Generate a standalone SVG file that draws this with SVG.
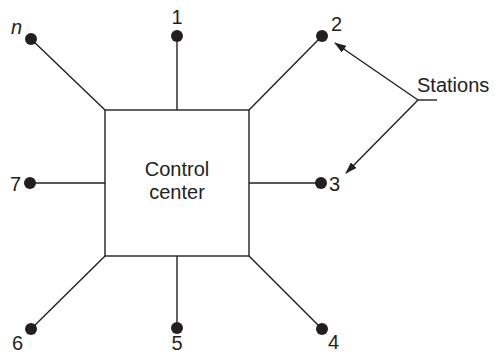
<svg xmlns="http://www.w3.org/2000/svg" width="495" height="352" viewBox="0 0 495 352">
<style>
.ln{stroke:#231f20;stroke-width:1.4;fill:none}
.dot{fill:#231f20}
.t{font-family:"Liberation Sans",Arial,sans-serif;font-size:20px;fill:#231f20}
</style>
<defs>
<marker id="ah" markerWidth="12" markerHeight="8" refX="11" refY="4" orient="auto" markerUnits="userSpaceOnUse">
<path d="M0,0 L12,4 L0,8 Z" fill="#231f20"/>
</marker>
</defs>
<rect width="495" height="352" fill="#fff"/>
<g id="connectors">
<line class="ln" x1="105" y1="110" x2="31" y2="39"/>
<line class="ln" x1="177" y1="110" x2="177" y2="36"/>
<line class="ln" x1="249" y1="110" x2="322" y2="36"/>
<line class="ln" x1="249" y1="183" x2="321" y2="183"/>
<line class="ln" x1="249" y1="256" x2="322" y2="329"/>
<line class="ln" x1="177" y1="256" x2="177" y2="328"/>
<line class="ln" x1="105" y1="256" x2="31" y2="329"/>
<line class="ln" x1="105" y1="183" x2="30" y2="183"/>
<line class="ln" x1="418" y1="100" x2="437" y2="100"/>
<line class="ln" x1="418" y1="100" x2="335" y2="43" marker-end="url(#ah)"/>
<line class="ln" x1="418" y1="100" x2="346" y2="173" marker-end="url(#ah)"/>
</g>
<g id="control">
<rect class="ln" x="105" y="110" width="144" height="146"/>
<text class="t" x="177" y="176" text-anchor="middle">Control</text>
<text class="t" x="177" y="199" text-anchor="middle">center</text>
</g>
<g id="node-n"><circle class="dot" cx="31" cy="39" r="6"/><text class="t" x="11" y="34" font-style="italic">n</text></g>
<g id="node-1"><circle class="dot" cx="177" cy="36" r="6"/><text class="t" x="177" y="24" text-anchor="middle">1</text></g>
<g id="node-2"><circle class="dot" cx="322" cy="36" r="6"/><text class="t" x="331" y="31">2</text></g>
<g id="node-3"><circle class="dot" cx="321" cy="183" r="6"/><text class="t" x="329" y="191">3</text></g>
<g id="node-4"><circle class="dot" cx="322" cy="329" r="6"/><text class="t" x="328" y="349">4</text></g>
<g id="node-5"><circle class="dot" cx="177" cy="328" r="6"/><text class="t" x="177" y="350" text-anchor="middle">5</text></g>
<g id="node-6"><circle class="dot" cx="31" cy="329" r="6"/><text class="t" x="12" y="350">6</text></g>
<g id="node-7"><circle class="dot" cx="30" cy="183" r="6"/><text class="t" x="10" y="191">7</text></g>
<g id="stations"><text class="t" x="417" y="92">Stations</text></g>
</svg>
